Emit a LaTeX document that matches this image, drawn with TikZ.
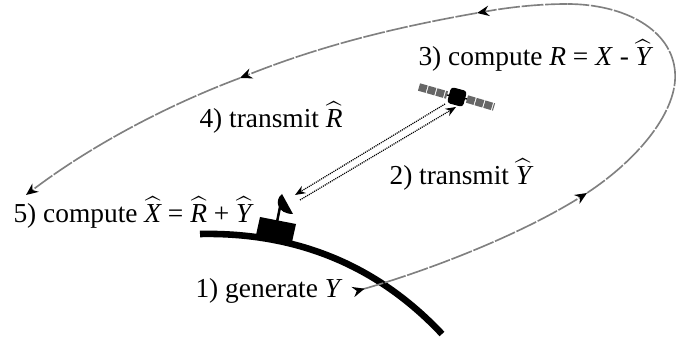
\documentclass[tikz,border=0pt]{standalone}
\usepackage{amsmath}
\usepackage{fontspec}
\setmainfont{Liberation Serif}
\usetikzlibrary{arrows.meta}
\newcommand{\hatv}[1]{\ensuremath{\widehat{\mbox{\itshape #1}}}}

\begin{document}
\begin{tikzpicture}[x=0.365pt, y=-0.365pt, every node/.style={anchor=base west, inner sep=0pt},
    orbit/.style={draw=black!50, line width=0.6pt, dash pattern=on 8pt off 0.6pt},
    orbittip/.style={-{Stealth[black, length=4.4pt, width=3.8pt]}},
    link/.style={line width=0.45pt, dash pattern=on 0.4pt off 0.35pt, -{Stealth[length=3.8pt, width=3pt]}},
    panel/.style={draw=black!60, line width=2.8pt, dash pattern=on 2.9pt off 0.4pt}]
      \useasboundingbox (0,0) rectangle (689,341);
      % ground
      \draw[line width=2.4pt] (200,234) .. controls (300,232) and (380,268) .. (442,334);
      \fill (260,217) -- (296,224) -- (292,242) -- (256,235) -- cycle;
      \draw[line width=0.9pt] (280,207) -- (277,222);
      \fill (282,194) .. controls (274,200) and (277,214) .. (293,214) -- cycle;
      % satellite
      \coordinate (lefta) at (419,87);
      \coordinate (leftb) at (447,95);
      \coordinate (righta) at (467,99);
      \coordinate (rightb) at (494,107);
      \draw[line width=0.5pt] (leftb) -- (righta);
      \draw[panel] (lefta) -- (leftb);
      \draw[panel] (righta) -- (rightb);
      \node[draw, fill, rectangle, rounded corners=1pt, rotate=-15, anchor=center, minimum size=5.6pt] (sat) at (457,97) {};
      % links
      \coordinate (upa) at (445,104);
      \coordinate (upb) at (295,195);
      \coordinate (downa) at (300,200);
      \coordinate (downb) at (456,107);
      \draw[link] (upa) -- (upb);
      \draw[link] (downa) -- (downb);
      % orbit
      \coordinate (gen) at (353,292);
      \coordinate (rise) at (587,193);
      \coordinate (far) at (675,72);
      \coordinate (top) at (567,4);
      \coordinate (back) at (477,13);
      \coordinate (fall) at (240,78);
      \coordinate (land) at (26,195);
      \draw[orbit, {Stealth[black, reversed, length=4.4pt, width=3.8pt]}-{Stealth[black, length=4.4pt, width=3.8pt]}] (gen) .. controls (430,270) and (520,235) .. (rise);
      \draw[orbit] (rise) .. controls (640,158) and (678,110) .. (far);
      \draw[orbit] (far) .. controls (672,30) and (625,4) .. (top);
      \draw[orbit, orbittip] (top) .. controls (535,4) and (505,8) .. (back);
      \draw[orbit, orbittip] (back) .. controls (380,30) and (310,50) .. (fall);
      \draw[orbit, orbittip] (fall) .. controls (160,108) and (85,150) .. (land);
      % labels
      \node (one) at (195,298) {1) generate \textit{Y}};
      \node (two) at (389,185) {2) transmit \hatv{Y}};
      \node (three) at (418,66) {3) compute \textit{R} = \textit{X} - \hatv{Y}};
      \node (four) at (199,128) {4) transmit \hatv{R}};
      \node (five) at (13,223) {5) compute \hatv{X} = \hatv{R} + \hatv{Y}};
    \end{tikzpicture}
\end{document}
